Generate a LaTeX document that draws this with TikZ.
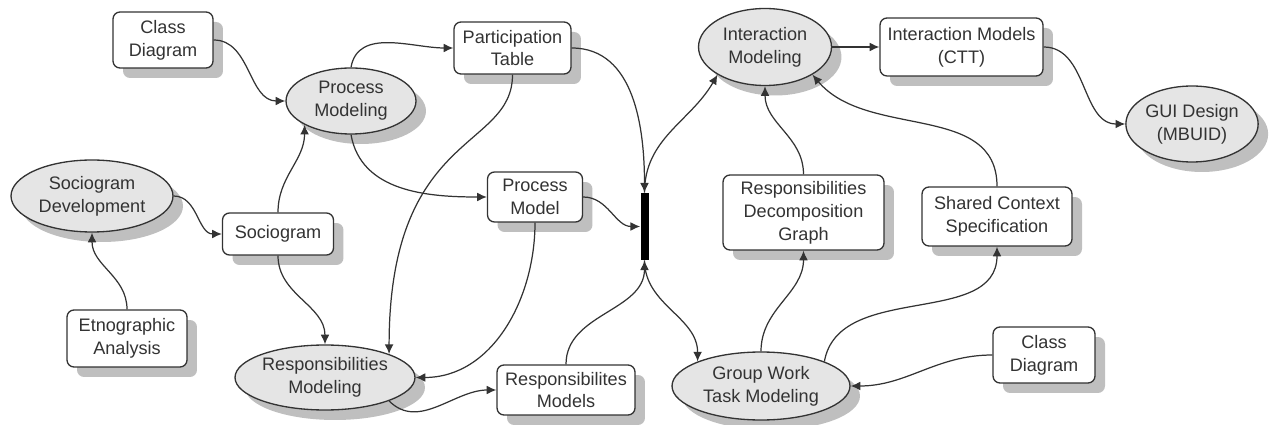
\documentclass[tikz,border=0pt]{standalone}
\usepackage{fontspec}
\setmainfont{Liberation Sans}
\usetikzlibrary{shapes.geometric,shadows,arrows.meta}
\definecolor{linegray}{HTML}{333333}
\tikzset{
	model/.style={draw=linegray, line width=0.75pt, fill=white, rounded corners=4pt, align=center, inner sep=0pt, text=black!80, font=\fontsize{10.3}{13}\selectfont, drop shadow={shadow xshift=0.2cm, shadow yshift=-0.2cm, fill=black!25, opacity=1}},
	activity/.style={model, ellipse, sharp corners, fill=black!10},
	flow/.style={draw=linegray, line width=0.7pt, -{Latex[length=5.5pt,width=5pt]}},
}
\begin{document}
\begin{tikzpicture}[x=0.02cm, y=-0.02cm]
	\useasboundingbox (0,0) rectangle (1270,425);
	\node [model, minimum width=2cm, minimum height=1.12cm] (cdA) at (163,40) {Class\\Diagram};
	\node [activity, minimum width=2.6cm, minimum height=1.32cm] (procM) at (351,101) {Process\\Modeling};
	\node [model, minimum width=2.34cm, minimum height=1.04cm] (partT) at (512.5,48) {Participation\\Table};
	\node [activity, minimum width=2.66cm, minimum height=1.54cm] (interM) at (765,47) {Interaction\\Modeling};
	\node [model, minimum width=3.26cm, minimum height=1.16cm] (ctt) at (961.5,47) {Interaction Models\\(CTT)};
	\node [activity, minimum width=2.62cm, minimum height=1.52cm] (gui) at (1192,124) {GUI Design\\(MBUID)};
	\node [activity, minimum width=3.24cm, minimum height=1.44cm] (socD) at (92,196) {Sociogram\\Development};
	\node [model, minimum width=2.22cm, minimum height=0.84cm] (soc) at (278,234) {Sociogram};
	\node [model, minimum width=1.9cm, minimum height=1cm] (procMod) at (535,197) {Process\\Model};
	\node [fill=black, inner sep=0pt, minimum width=0.16cm, minimum height=1.34cm] (bar) at (644.5,226.5) {};
	\node [model, minimum width=3.22cm, minimum height=1.5cm] (respDG) at (803.5,212.5) {Responsibilities\\Decomposition\\Graph};
	\node [model, minimum width=3cm, minimum height=1.18cm] (shared) at (997,216.5) {Shared Context\\Specification};
	\node [model, minimum width=2.4cm, minimum height=1.14cm] (etno) at (127,338.5) {Etnographic\\Analysis};
	\node [activity, minimum width=3.6cm, minimum height=1.3cm] (respM) at (325,377.5) {Responsibilities\\Modeling};
	\node [model, minimum width=2.76cm, minimum height=1cm] (respMod) at (566,390) {Responsibilites\\Models};
	\node [activity, minimum width=3.56cm, minimum height=1.36cm] (gwtm) at (761,386) {Group Work\\Task Modeling};
	\node [model, minimum width=2.04cm, minimum height=1.12cm] (cdB) at (1044,355) {Class\\Diagram};

	\draw [flow] (cdA.east) to [out=0, in=180] (procM.west);
	\draw [flow] (procM.north) to [out=80, in=180] (partT.west);
	\draw [flow] (procM.south) to [out=-80, in=180] (procMod.west);
	\draw [flow] (soc.north) to [out=90, in=-90] (procM.south west);
	\draw [flow] (socD.east) to [out=0, in=180] (soc.west);
	\draw [flow] (etno.north) to [out=90, in=-90] (socD.south);
	\draw [flow] (soc.south) to [out=-90, in=90] (respM.north);
	\draw [flow] (partT.south) .. controls +(0,76) and +(0,-224) .. (respM.north east);
	\draw [flow] (procMod.south) to [out=-90, in=0] (respM.east);
	\draw [flow] (respM.south east) to [out=-45, in=180] (respMod.west);
	\draw [flow] (partT.east) to [out=0, in=90] (bar.north);
	\draw [flow] (procMod.east) to [out=0, in=180] (bar.west);
	\draw [flow] (respMod.north) to [out=90, in=-90] (bar.south);
	\draw [flow] (bar.north) to [out=90, in=-120] (interM.south west);
	\draw [flow] (bar.south) to [out=-90, in=90] (gwtm.north west);
	\draw [flow] (interM.east) -- (ctt.west);
	\draw [flow] (ctt.east) to [out=0, in=180] (gui.west);
	\draw [flow] (respDG.north) to [out=90, in=-90] (interM.south);
	\draw [flow] (shared.north) to [out=90, in=-50] (interM.south east);
	\draw [flow] (gwtm.north) to [out=90, in=-90] (respDG.south);
	\draw [flow] (gwtm.north east) to [out=80, in=-90] (shared.south);
	\draw [flow] (cdB.west) to [out=180, in=0] (gwtm.east);
\end{tikzpicture}
\end{document}
